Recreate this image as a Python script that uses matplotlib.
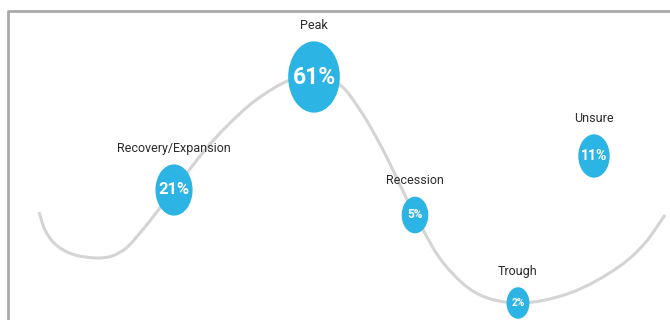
import numpy as np
import matplotlib.pyplot as plt
from matplotlib.patches import Ellipse, PathPatch
from matplotlib.path import Path

# survey answers: which phase of the cycle are we in
phases = ['Recovery/Expansion', 'Peak', 'Recession', 'Trough', 'Unsure']
shares = [21, 61, 5, 2, 11]
# where each phase sits on the drawing (pixel space of the picture)
phase_x = [174, 314, 415, 518, 594]
phase_y = [190, 77, 215, 303, 156]

# anchor points of the business-cycle wave
wave_x = [39, 45, 55, 72, 98, 112, 125, 140, 156, 174, 205, 226, 256, 290, 314, 340, 360, 382, 415, 445, 478, 518, 570, 620, 645, 665]
wave_y = [212, 230, 244, 254, 258, 256, 249, 233, 213, 190, 150, 127, 100, 80, 75, 85, 110, 148, 215, 265, 294, 303, 293, 266, 243, 215]

BLUE = '#2cb5e4'
WAVE = '#d4d4d4'

plt.rcParams['font.family'] = ['Roboto', 'DejaVu Sans']

fig = plt.figure(figsize=(6.7, 3.2), dpi=100)
ax = fig.add_axes([0, 0, 1, 1])
ax.set_xlim(0, 670)
ax.set_ylim(320, 0)
ax.axis('off')

# frame cut by the picture edge
ax.plot([7.5, 7.5, 670], [320, 10.5, 10.5], color='#a9a9a9', lw=2, solid_capstyle='butt')

# smooth wave: centripetal Catmull-Rom turned into cubic Bezier segments
pts = np.column_stack([wave_x, wave_y]).astype(float)
n = len(pts)
verts = [pts[0]]
codes = [Path.MOVETO]
for i in range(n - 1):
    p1, p2 = pts[i], pts[i + 1]
    d2 = np.hypot(*(p2 - p1)) ** 0.5
    if i > 0:
        p0 = pts[i - 1]
        d1 = np.hypot(*(p1 - p0)) ** 0.5
        b1 = (d1**2 * p2 - d2**2 * p0 + (2 * d1**2 + 3 * d1 * d2 + d2**2) * p1) / (3 * d1 * (d1 + d2))
    else:
        b1 = p1 + (p2 - p1) / 3
    if i + 2 < n:
        p3 = pts[i + 2]
        d3 = np.hypot(*(p3 - p2)) ** 0.5
        b2 = (d3**2 * p1 - d2**2 * p3 + (2 * d3**2 + 3 * d3 * d2 + d2**2) * p2) / (3 * d3 * (d3 + d2))
    else:
        b2 = p2 - (p2 - p1) / 3
    verts += [b1, b2, p2]
    codes += [Path.CURVE4] * 3
ax.add_patch(PathPatch(Path(verts, codes), fill=False, edgecolor=WAVE, lw=2.2, zorder=1))

for name, v, x, y in zip(phases, shares, phase_x, phase_y):
    w = 16.5 + 4.5 * np.sqrt(v)
    h = 1.38 * w
    ax.add_patch(Ellipse((x, y), w, h, facecolor=BLUE, edgecolor='none', zorder=2))
    ax.text(x, y, f'{v}%', ha='center', va='center', color='white',
            fontsize=0.32 * w, fontweight='bold', zorder=3)
    ax.text(x, y - h / 2 - 16, name, ha='center', va='center', color='#2b2b2b',
            fontsize=9, zorder=3)

fig.savefig('out.png', dpi=100)
